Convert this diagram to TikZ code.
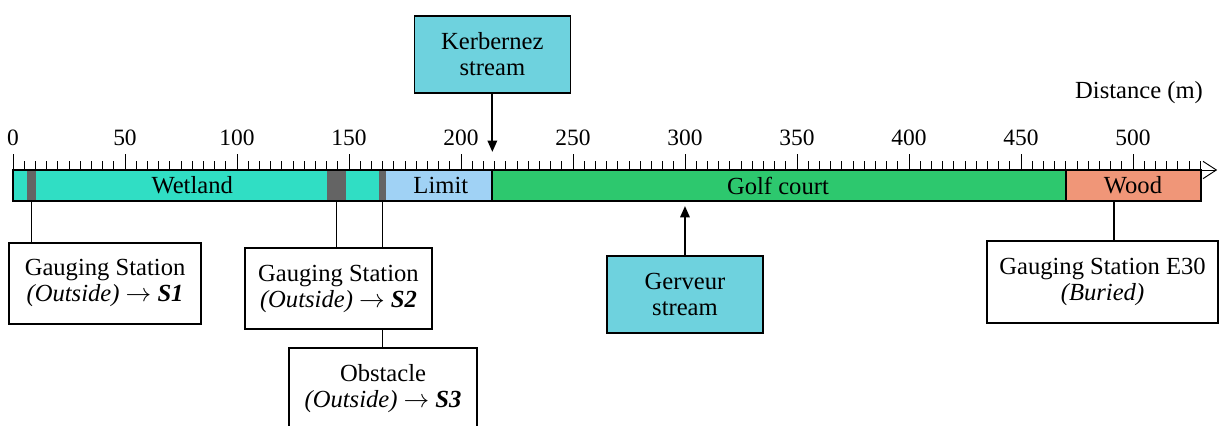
\documentclass[tikz,border=0pt]{standalone}
\usepackage{fontspec}
\setmainfont{Liberation Serif}
\usetikzlibrary{arrows.meta}

\definecolor{wetcol}{RGB}{48,222,196}
\definecolor{gapcol}{RGB}{100,100,100}
\definecolor{limitcol}{RGB}{160,210,245}
\definecolor{golfcol}{RGB}{45,200,110}
\definecolor{woodcol}{RGB}{240,150,120}
\definecolor{streamcol}{RGB}{110,210,222}

\begin{document}
\begin{tikzpicture}[
  x=0.0336cm, y=1cm,
  font=\fontsize{10.5}{11.2}\selectfont,
  box/.style={draw, line width=0.6pt, align=center, inner sep=2pt},
  station/.style={box, fill=white, minimum height=1.215cm},
  stream/.style={box, fill=streamcol, minimum width=2.34cm, minimum height=1.155cm},
  arr/.style={-{Triangle[length=1.7mm,width=1.4mm]}, line width=0.9pt},
  link/.style={line width=0.6pt},
  num/.style={font=\fontsize{10}{11}\selectfont, above},
]
\useasboundingbox (-5.8,2.55) rectangle (538.4,-3.84);

% zones along the distance axis (x in metres)
\fill[wetcol] (0,0) rectangle (166.5,-0.465);
\fill[limitcol] (166.5,0) rectangle (213.8,-0.465);
\fill[golfcol] (213.8,0) rectangle (470.1,-0.465);
\fill[woodcol] (470.1,0) rectangle (530.4,-0.465);
\fill[gapcol] (6.2,0) rectangle (10.3,-0.465);
\fill[gapcol] (140.2,0) rectangle (148.7,-0.465);
\fill[gapcol] (163.4,0) rectangle (166.5,-0.465);
\draw[line width=0.8pt] (213.8,0) -- (213.8,-0.465);
\draw[line width=0.8pt] (470.1,0) -- (470.1,-0.465);

% axis and ticks
\draw[thin, -{Straight Barb[length=2mm,width=2.6mm]}] (0,0) -- (537.6,0);
\foreach \d in {0,5,...,530}
  \draw[thin] (\d,0) -- (\d,0.135);
\foreach \d in {0,50,...,500}
  \draw[thin] (\d,0) -- (\d,0.24) node[num] {\d};
\draw[line width=1.2pt] (0,0) rectangle (530.4,-0.465);

\node (wet) at (80,-0.2325) {Wetland};
\node (lim) at (191,-0.2325) {Limit};
\node (golf) at (341.5,-0.2325) {Golf court};
\node (wood) at (500,-0.2325) {Wood};
\node (dist) at (502.7,1.155) {Distance (m)};

% stations and streams
\node[station, minimum width=2.88cm] (s1) at (41.1,-1.70) {Gauging Station\\\textit{(Outside)} $\rightarrow$ \textbf{\textit{S1}}};
\node[station, minimum width=2.805cm] (s2) at (145.3,-1.78) {Gauging Station\\\textit{(Outside)} $\rightarrow$ \textbf{\textit{S2}}};
\node[station, minimum width=2.82cm] (s3) at (165.2,-3.28) {Obstacle\\\textit{(Outside)} $\rightarrow$ \textbf{\textit{S3}}};
\node[station, minimum width=3.465cm, minimum height=1.23cm] (e30) at (486.4,-1.68) {Gauging Station E30\\\textit{(Buried)}};
\node[stream] (kerb) at (214,1.733) {Kerbernez\\stream};
\node[stream] (gerv) at (300,-1.87) {Gerveur\\stream};

\coordinate (gap1) at (8.25,-0.465);
\coordinate (gap2) at (144.5,-0.465);
\coordinate (gap3) at (165,-0.465);
\coordinate (woodpt) at (491.5,-0.465);
\coordinate (kerbpt) at (214,0.27);
\coordinate (gervpt) at (300,-0.54);

\draw[link] (gap1) -- (gap1 |- s1.north);
\draw[link] (gap2) -- (gap2 |- s2.north);
\draw[link] (gap3) -- (gap3 |- s2.north);
\draw[link] (gap3 |- s2.south) -- (gap3 |- s3.north);
\draw[link] (woodpt) -- (woodpt |- e30.north);
\draw[arr] (kerb) -- (kerbpt);
\draw[arr] (gerv) -- (gervpt);
\end{tikzpicture}
\end{document}
